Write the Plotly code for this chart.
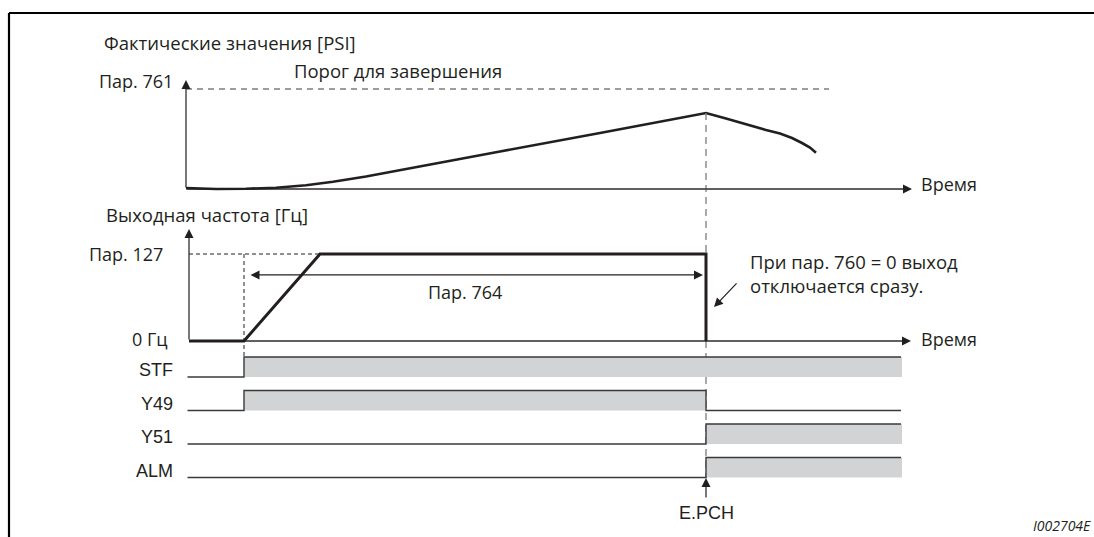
import plotly.graph_objects as go

# --- data (time in diagram units, origin at the y axes) ---
# actual value curve [PSI], threshold (Pr.761) = 100
psi_t = [0.00, 0.30, 0.60, 0.90, 1.20, 1.47, 1.80, 2.14, 3.14, 4.14, 5.20,
         5.40, 5.60, 5.80, 5.94, 6.06, 6.16, 6.24, 6.30]
psi_v = [1.0, 0.0, 0.3, 1.3, 3.8, 7.3, 12.5, 19.0, 37.5, 56.0, 76.0,
         70.5, 64.5, 59.0, 55.5, 51.0, 46.0, 41.5, 36.3]
psi_threshold = 100
psi_threshold_end = 6.43

# output frequency (Pr.127 = 1)
freq_t = [0.03, 0.58, 1.34, 5.20, 5.20]
freq_v = [0, 0, 1, 1, 0]

t_start = 0.58     # STF on
t_trip = 5.20      # E.PCH
t_end = 7.15       # end of signal traces
axis_end = 7.26

signals = ["STF", "Y49", "Y51", "ALM"]
sig_t = {
    "STF": [0.015, t_start, t_end],
    "Y49": [0.015, t_start, t_trip, t_end],
    "Y51": [0.015, t_trip, t_end],
    "ALM": [0.015, t_trip, t_end],
}
sig_v = {
    "STF": [0, 1, 1],
    "Y49": [0, 1, 0, 0],
    "Y51": [0, 1, 1],
    "ALM": [0, 1, 1],
}

INK = "#231f20"
GREY_DASH = "#7d7d7d"
FILL = "#d2d3d5"
SIG_LINE = "#3a3a3a"
MYR = "Open Sans"
HEL = "Liberation Sans"

row_step = 1.675  # signal rows spacing in y3 units

fig = go.Figure()

# top panel: actual values
fig.add_trace(go.Scatter(x=[0, axis_end - 0.05], y=[0, 0], mode="lines",
                         line=dict(color="#444", width=1.2), yaxis="y"))
fig.add_trace(go.Scatter(x=[0, psi_threshold_end], y=[psi_threshold] * 2, mode="lines",
                         line=dict(color=GREY_DASH, width=1.3, dash="6px,5px"), yaxis="y"))
fig.add_trace(go.Scatter(x=psi_t, y=psi_v, mode="lines", line=dict(color=INK, width=2.6), yaxis="y"))

# middle panel: output frequency
fig.add_trace(go.Scatter(x=[freq_t[0], axis_end - 0.05], y=[0, 0], mode="lines",
                         line=dict(color="#444", width=1.2), yaxis="y2"))
fig.add_trace(go.Scatter(x=[freq_t[0], freq_t[2]], y=[1, 1], mode="lines",
                         line=dict(color=INK, width=1, dash="4px,3px"), yaxis="y2"))
fig.add_trace(go.Scatter(x=[t_start, t_start], y=[1, -0.18], mode="lines",
                         line=dict(color=INK, width=1, dash="4px,3px"), yaxis="y2"))
fig.add_trace(go.Scatter(x=freq_t, y=freq_v, mode="lines",
                         line=dict(color=INK, width=3), yaxis="y2"))

# signal rows
for i, name in enumerate(signals):
    base = -i * row_step
    xs = sig_t[name]
    ys = [base + v for v in sig_v[name]]
    fig.add_trace(go.Scatter(x=[xs[0], xs[-1] + 0.01], y=[base, base], mode="lines",
                             line=dict(width=0), yaxis="y3", hoverinfo="skip"))
    fig.add_trace(go.Scatter(x=xs[:-1] + [xs[-1] + 0.01], y=ys, mode="lines", line=dict(width=0, shape="hv"),
                             fill="tonexty", fillcolor=FILL, yaxis="y3", hoverinfo="skip"))
    fig.add_trace(go.Scatter(x=xs, y=ys, mode="lines", line=dict(color=SIG_LINE, width=1.4, shape="hv"),
                             yaxis="y3"))
    fig.add_annotation(x=-0.11, y=base + 0.35, xref="x", yref="y3", text=name, showarrow=False,
                       xanchor="right", yanchor="middle", font=dict(family=HEL, size=18, color=INK))

# vertical dashed marker at the trip
fig.add_trace(go.Scatter(x=[t_trip, t_trip], y=[76, -289], mode="lines",
                         line=dict(color=GREY_DASH, width=1.3, dash="7px,5px"), yaxis="y"))

arrow = dict(showarrow=True, arrowhead=2, arrowsize=1.5, arrowwidth=1.2, arrowcolor=INK, text="")

# axis arrows
fig.add_annotation(x=0, y=109, ax=0, ay=0, xref="x", yref="y", axref="x", ayref="y", **arrow)
fig.add_annotation(x=axis_end, y=0, ax=0, ay=0, xref="x", yref="y", axref="x", ayref="y", **arrow)
fig.add_annotation(x=0.03, y=1.287, ax=0.03, ay=0, xref="x", yref="y2", axref="x", ayref="y2", **arrow)
fig.add_annotation(x=axis_end - 0.01, y=0, ax=0.03, ay=0, xref="x", yref="y2", axref="x", ayref="y2", **arrow)

# Pr.764 double arrow
fig.add_annotation(x=5.17, y=0.76, ax=0.63, ay=0.76, xref="x", yref="y2", axref="x", ayref="y2",
                   arrowside="end+start", startarrowhead=2, startarrowsize=1.5, **arrow)
# pointer to the cut-off
fig.add_annotation(x=5.28, y=0.39, ax=5.52, ay=0.68, xref="x", yref="y2", axref="x", ayref="y2", **arrow)
# E.PCH arrow
fig.add_annotation(x=t_trip, y=-5.05, ax=t_trip, ay=-6.1, xref="x", yref="y3", axref="x", ayref="y3", **arrow)

# texts
def txt(x, y, yref, s, anchor="left", size=18, family=MYR, italic=False):
    fig.add_annotation(x=x, y=y, xref="x", yref=yref, text=s, showarrow=False, xanchor=anchor,
                       yanchor="middle", align="left",
                       font=dict(family=family, size=size, color=INK, style="italic" if italic else "normal"))

txt(-0.84, 147, "y", "Фактические значения [PSI]", size=18.5)
txt(-0.11, 108, "y", "Пар. 761", anchor="right")
txt(1.06, 119, "y", "Порог для завершения", size=18.5)
txt(7.33, 5, "y", "Время")
txt(-0.82, 1.45, "y2", "Выходная частота [Гц]", size=18.5)
txt(-0.21, 1.0, "y2", "Пар. 127", anchor="right")
txt(-0.16, 0.02, "y2", "0 Гц", anchor="right")
txt(2.79, 0.56, "y2", "Пар. 764", anchor="center")
txt(5.62, 0.78, "y2", "При пар. 760 = 0 выход<br>отключается сразу.", size=18.5)
txt(7.33, 0.02, "y2", "Время")
txt(t_trip, -6.8, "y3", "E.PCH", anchor="center", family=HEL, size=18)
txt(9.07, -7.4, "y3", "I002704E", anchor="right", size=14, italic=True)

# frame
fig.add_shape(type="line", xref="paper", yref="paper", x0=9 / 1094, x1=1, y0=1 - 13 / 537, y1=1 - 13 / 537,
              line=dict(color="black", width=2.2))
fig.add_shape(type="line", xref="paper", yref="paper", x0=9 / 1094, x1=9 / 1094, y0=0, y1=1 - 13 / 537,
              line=dict(color="black", width=2.2))

hidden = dict(visible=False, fixedrange=True)
fig.update_layout(
    width=1094, height=537, autosize=False,
    margin=dict(l=0, r=0, t=0, b=0),
    paper_bgcolor="white", plot_bgcolor="white",
    showlegend=False,
    xaxis=dict(range=[-1.86, 9.08], **hidden),
    yaxis=dict(range=[-348, 189], **hidden),
    yaxis2=dict(range=[-196 / 87, 341 / 87], overlaying="y", **hidden),
    yaxis3=dict(range=[-8, 18.85], overlaying="y", **hidden),
)

fig.write_html("out.html", config={"displayModeBar": False},
               post_script="document.body.style.margin='0';document.body.style.overflow='hidden';")
